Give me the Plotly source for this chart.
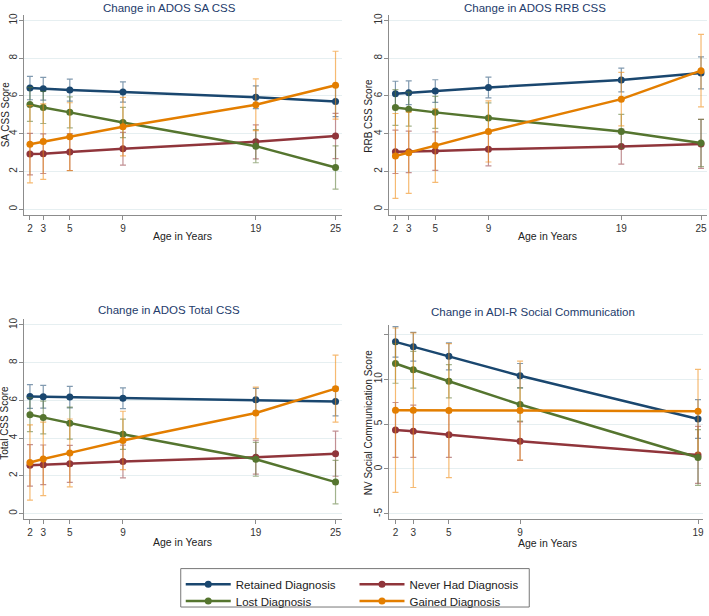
import plotly.graph_objects as go

# ---------------- data ----------------
ages_ados = [2, 3, 5, 9, 19, 25]
ages_adir = [2, 3, 5, 9, 19]

groups = ["Retained Diagnosis", "Never Had Diagnosis", "Lost Diagnosis", "Gained Diagnosis"]
colors = ["#1a476f", "#90353b", "#55752f", "#e37e00"]
err_colors = ["rgba(26,71,111,0.55)", "rgba(144,53,59,0.55)", "rgba(85,117,47,0.55)", "rgba(240,140,20,0.6)"]
legend_of = ["legend", "legend2", "legend3", "legend4"]

# SA CSS
sa_retained = [6.42, 6.38, 6.31, 6.21, 5.93, 5.70]
sa_retained_ci = [0.62, 0.60, 0.58, 0.54, 0.60, 0.80]
sa_never = [2.92, 2.94, 3.03, 3.20, 3.57, 3.88]
sa_never_ci = [1.10, 1.05, 0.98, 0.87, 0.90, 1.20]
sa_lost = [5.55, 5.39, 5.13, 4.59, 3.34, 2.21]
sa_lost_ci = [0.90, 0.85, 0.82, 0.80, 0.88, 1.15]
sa_gained = [3.44, 3.58, 3.84, 4.37, 5.53, 6.57]
sa_gained_ci = [2.05, 2.00, 1.80, 1.55, 1.37, 1.80]

# RRB CSS
rrb_retained = [6.12, 6.17, 6.26, 6.45, 6.85, 7.22]
rrb_retained_ci = [0.66, 0.63, 0.60, 0.55, 0.63, 0.85]
rrb_never = [3.04, 3.04, 3.08, 3.17, 3.32, 3.46]
rrb_never_ci = [1.15, 1.10, 1.02, 0.87, 0.93, 1.30]
rrb_lost = [5.39, 5.30, 5.13, 4.83, 4.12, 3.51]
rrb_lost_ci = [0.95, 0.90, 0.85, 0.80, 0.90, 1.25]
rrb_gained = [2.82, 2.99, 3.37, 4.12, 5.83, 7.34]
rrb_gained_ci = [2.25, 2.15, 1.95, 1.62, 1.42, 1.92]

# Total CSS
tot_retained = [6.20, 6.19, 6.17, 6.11, 6.03, 5.94]
tot_retained_ci = [0.63, 0.60, 0.57, 0.55, 0.60, 0.77]
tot_never = [2.55, 2.58, 2.63, 2.75, 2.98, 3.17]
tot_never_ci = [1.10, 1.05, 0.98, 0.87, 0.90, 1.20]
tot_lost = [5.24, 5.09, 4.79, 4.20, 2.87, 1.66]
tot_lost_ci = [0.90, 0.87, 0.85, 0.80, 0.90, 1.15]
tot_gained = [2.70, 2.89, 3.21, 3.87, 5.33, 6.62]
tot_gained_ci = [2.00, 1.95, 1.80, 1.55, 1.37, 1.78]

# ADI-R Social Communication
adi_retained = [14.15, 13.60, 12.54, 10.38, 5.56]
adi_retained_ci = [1.70, 1.60, 1.50, 1.36, 2.15]
adi_never = [4.35, 4.20, 3.80, 3.10, 1.57]
adi_never_ci = [3.05, 2.90, 2.50, 2.15, 3.17]
adi_lost = [11.74, 11.04, 9.76, 7.17, 1.28]
adi_lost_ci = [2.20, 2.05, 1.85, 1.85, 3.10]
adi_gained = [6.54, 6.54, 6.50, 6.50, 6.43]
adi_gained_ci = [9.15, 8.60, 7.45, 5.50, 4.65]

panels = [
    (ages_ados, [sa_retained, sa_never, sa_lost, sa_gained],
     [sa_retained_ci, sa_never_ci, sa_lost_ci, sa_gained_ci]),
    (ages_ados, [rrb_retained, rrb_never, rrb_lost, rrb_gained],
     [rrb_retained_ci, rrb_never_ci, rrb_lost_ci, rrb_gained_ci]),
    (ages_ados, [tot_retained, tot_never, tot_lost, tot_gained],
     [tot_retained_ci, tot_never_ci, tot_lost_ci, tot_gained_ci]),
    (ages_adir, [adi_retained, adi_never, adi_lost, adi_gained],
     [adi_retained_ci, adi_never_ci, adi_lost_ci, adi_gained_ci]),
]

titles = ["Change in ADOS SA CSS", "Change in ADOS RRB CSS",
          "Change in ADOS Total CSS", "Change in ADI-R Social Communication"]
ytitles = ["SA CSS Score", "RRB CSS Score", "Total CSS Score", "NV Social Communication Score"]

W, H = 709, 616

fig = go.Figure()

for p, (xs, ys, cis) in enumerate(panels):
    ax = "" if p == 0 else str(p + 1)
    for g in [0, 1, 2, 3]:
        fig.add_trace(go.Scatter(
            x=xs, y=ys[g],
            mode="lines+markers",
            name=groups[g],
            legend=legend_of[g],
            showlegend=(p == 0),
            line=dict(color=colors[g], width=2.5),
            marker=dict(color=colors[g], size=7),
            error_y=dict(type="data", array=cis[g], visible=True,
                         color=err_colors[g], thickness=1.2, width=3),
            xaxis="x" + ax, yaxis="y" + ax,
        ))

def px_x(a, b):
    return [a / W, b / W]

def px_y(top, bottom):
    return [(H - bottom) / H, (H - top) / H]

grid = "#e6eff1"
axis_common = dict(showline=True, linecolor="#8c8c8c", linewidth=1,
                   ticks="outside", ticklen=4, tickcolor="#8c8c8c",
                   tickfont=dict(size=10, color="#333333"),
                   zeroline=False)

leg_common = dict(orientation="v", yanchor="middle", xanchor="left",
                  traceorder="normal", bgcolor="rgba(0,0,0,0)", borderwidth=0,
                  font=dict(size=11.5, color="#222222"), itemwidth=45)

legend_pos = [(181, 591), (355, 591), (181, 608), (355, 608)]

layout = dict(
    width=W, height=H,
    margin=dict(l=0, r=0, t=0, b=0),
    paper_bgcolor="white", plot_bgcolor="white",
    font=dict(family="Liberation Sans, Arial, sans-serif", color="#333333"),
    showlegend=True,
)
for i, name in enumerate(legend_of):
    lx, ly = legend_pos[i]
    layout[name] = dict(leg_common, x=lx / W, y=(H - ly) / H)

doms_x = [px_x(24, 342), px_x(390, 708), px_x(24, 342), px_x(390, 704)]
doms_y = [px_y(13, 216), px_y(13, 216), px_y(322, 524.7), px_y(328, 525)]
xranges = [[1.55, 25.45], [1.55, 25.45], [1.55, 25.45], [1.66, 19.28]]
yranges = [[-0.3, 10.3], [-0.3, 10.3], [-0.3, 10.3], [-5.6, 16.0]]
xticks = [ages_ados, ages_ados, ages_ados, ages_adir]
yticks = [[0, 2, 4, 6, 8, 10]] * 3 + [[-5, 0, 5, 10, 15]]
ytext = [["0", "2", "4", "6", "8", "10"]] * 3 + [["-5", "0", "5", "10", ""]]

for p in range(4):
    ax = "" if p == 0 else str(p + 1)
    layout["xaxis" + ax] = dict(axis_common, domain=doms_x[p], range=xranges[p],
                                tickvals=xticks[p], showgrid=False,
                                anchor="y" + ax)
    layout["yaxis" + ax] = dict(axis_common, domain=doms_y[p], range=yranges[p],
                                tickvals=yticks[p], ticktext=ytext[p],
                                tickangle=-90, showgrid=True, gridcolor=grid,
                                ticklabelstandoff=-2,
                                anchor="x" + ax)

fig.update_layout(**layout)

# legend frame
fig.add_shape(type="rect", xref="paper", yref="paper",
              x0=181 / W, x1=530 / W, y0=(H - 614) / H, y1=(H - 575) / H,
              line=dict(color="#777777", width=1), fillcolor="rgba(0,0,0,0)")

title_pos = [(170, 6), (536, 6), (169, 313), (534, 315)]
ytitle_pos = [(5, 114), (369, 115), (5, 427), (369, 427)]
xtitle_pos = [(183, 237), (548, 237), (183, 548), (548, 549)]

for p in range(4):
    tx, ty = title_pos[p]
    fig.add_annotation(text=titles[p], x=tx / W, y=(H - ty) / H, xref="paper", yref="paper",
                       showarrow=False, font=dict(size=11.5, color="#233b6b"),
                       xanchor="center", yanchor="middle")
    yx, yy = ytitle_pos[p]
    fig.add_annotation(text=ytitles[p], x=yx / W, y=(H - yy) / H, xref="paper", yref="paper",
                       showarrow=False, textangle=-90, font=dict(size=10, color="#222222"),
                       xanchor="center", yanchor="middle")
    xx, xy = xtitle_pos[p]
    fig.add_annotation(text="Age in Years", x=xx / W, y=(H - xy) / H, xref="paper", yref="paper",
                       showarrow=False, font=dict(size=10.5, color="#222222"),
                       xanchor="center", yanchor="middle")

js = ("document.documentElement.style.margin='0px';"
      "document.documentElement.style.overflow='hidden';"
      "document.body.style.margin='0px';"
      "document.body.style.overflow='hidden';"
      "document.body.style.height='616px';")
fig.write_html("out.html", post_script=js, config={"displayModeBar": False})
